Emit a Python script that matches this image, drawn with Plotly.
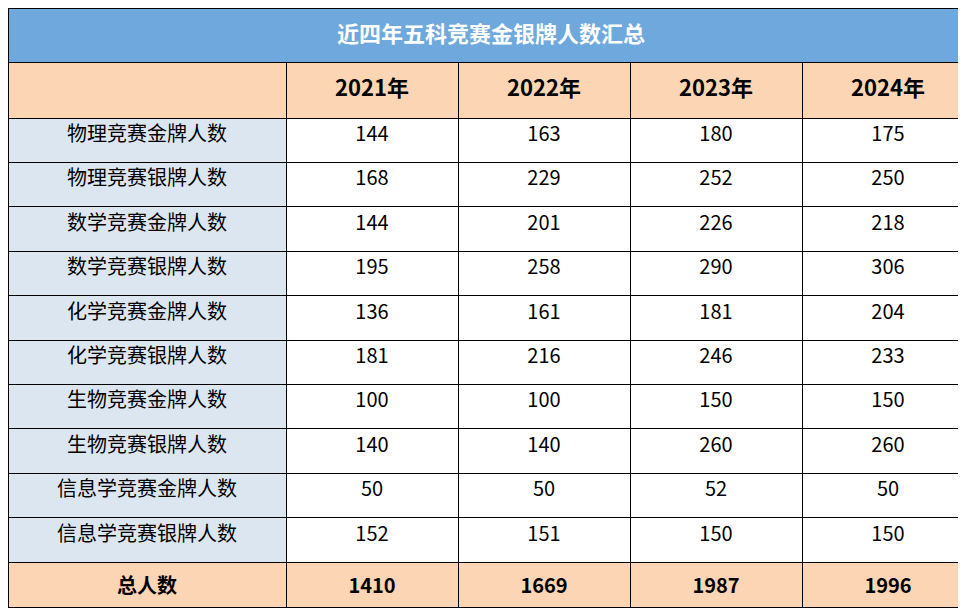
import plotly.graph_objects as go

title = "近四年五科竞赛金银牌人数汇总"
years = ["2021年", "2022年", "2023年", "2024年"]
rows = ["物理竞赛金牌人数", "物理竞赛银牌人数", "数学竞赛金牌人数", "数学竞赛银牌人数",
        "化学竞赛金牌人数", "化学竞赛银牌人数", "生物竞赛金牌人数", "生物竞赛银牌人数",
        "信息学竞赛金牌人数", "信息学竞赛银牌人数"]
v2021 = [144, 168, 144, 195, 136, 181, 100, 140, 50, 152]
v2022 = [163, 229, 201, 258, 161, 216, 100, 140, 50, 151]
v2023 = [180, 252, 226, 290, 181, 246, 150, 260, 52, 150]
v2024 = [175, 250, 218, 306, 204, 233, 150, 260, 50, 150]
total_label = "总人数"
totals = [1410, 1669, 1987, 1996]

FONT = "Noto Sans CJK SC, Open Sans, sans-serif"
BLUE = "#6fa8dc"
PEACH = "#fcd5b4"
LIGHT = "#dce6f1"
n = len(rows)

cols = [rows + [f"<b>{total_label}</b>"]]
for vals, t in zip([v2021, v2022, v2023, v2024], totals):
    cols.append([str(v) for v in vals] + [f"<b>{t}</b>"])
fills = [[LIGHT] * n + [PEACH]] + [["white"] * n + [PEACH] for _ in years]

fig = go.Figure()
fig.add_trace(go.Table(
    domain=dict(x=[0, 1], y=[546 / 608, 1]),
    columnwidth=[1],
    header=dict(values=[f"<b>{title}</b>"], height=62, fill_color=BLUE,
                line_color="black", line_width=1,
                font=dict(family=FONT, size=22, color="white"), align="center"),
))
fig.add_trace(go.Table(
    domain=dict(x=[0, 1], y=[0, 554 / 608]),
    columnwidth=[278, 172, 172, 172, 172],
    header=dict(values=[""] + [f"<b>{y}</b>" for y in years], height=56,
                fill_color=PEACH, line_color="black", line_width=1,
                font=dict(family=FONT, size=22, color="black"), align="center"),
    cells=dict(values=cols, height=44.4, fill_color=fills, line_color="black",
               line_width=1, font=dict(family=FONT, size=20, color="black"),
               align="center"),
))
fig.update_layout(width=966, height=608, margin=dict(l=0, r=0, t=0, b=0),
                  paper_bgcolor="white")
fig.write_html("out.html")
